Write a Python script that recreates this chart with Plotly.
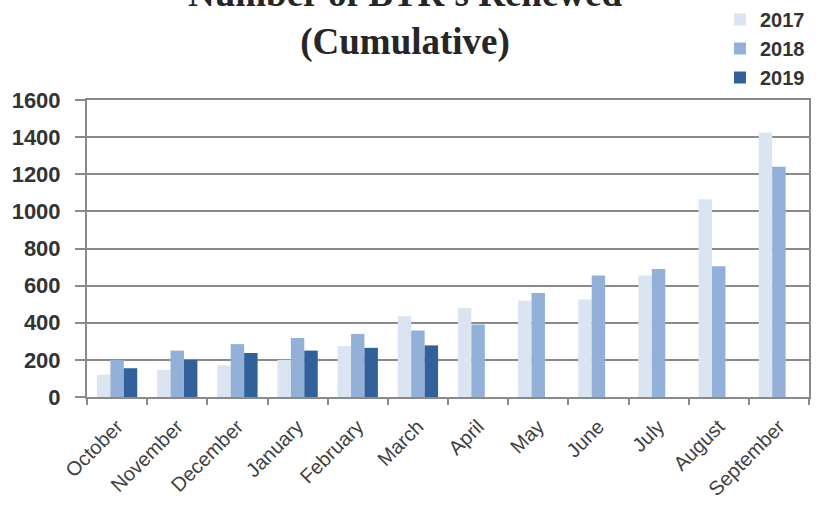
import plotly.graph_objects as go

months = ["October", "November", "December", "January", "February", "March",
          "April", "May", "June", "July", "August", "September"]
renewed_2017 = [120, 145, 170, 200, 275, 435, 480, 520, 525, 655, 1065, 1425]
renewed_2018 = [200, 250, 285, 318, 340, 358, 390, 560, 655, 690, 705, 1240]
renewed_2019 = [155, 200, 237, 250, 265, 278, None, None, None, None, None, None]

years = ["2017", "2018", "2019"]
colors = ["#dbe5f2", "#93b1d8", "#32609a"]

fig = go.Figure()
for name, vals, col in zip(years, [renewed_2017, renewed_2018, renewed_2019], colors):
    fig.add_trace(go.Bar(x=months, y=vals, name=name, marker_color=col,
                         marker_line_width=0))

grid = "#8a8a8a"
fig.update_layout(
    width=820, height=506,
    margin=dict(l=87, r=11, t=100, b=109, autoexpand=False),
    paper_bgcolor="white", plot_bgcolor="white",
    barmode="group", bargap=0.33, bargroupgap=0,
    showlegend=True,
    legend=dict(xref="container", yref="container",
                x=0.878, xanchor="left", y=1.0, yanchor="top",
                font=dict(family="Liberation Sans", size=20, color="#333333",
                          weight="bold"),
                bgcolor="rgba(0,0,0,0)", itemwidth=30, tracegroupgap=0,
                traceorder="normal"),
    annotations=[dict(
        text="<b>Number of BTR's Renewed<br>(Cumulative)</b>",
        xref="paper", yref="paper", x=0.4404, y=1.118,
        xanchor="center", yanchor="bottom", showarrow=False,
        font=dict(family="Liberation Serif", size=37, color="#262626"),
    )],
)

fig.update_xaxes(
    showline=True, linecolor=grid, linewidth=2, mirror=True,
    ticks="outside", tickson="boundaries", ticklen=6, tickcolor=grid, tickwidth=2,
    tickangle=-45, ticklabelstandoff=8,
    tickfont=dict(family="Liberation Sans", size=20, color="#404040"),
    showgrid=False,
)
fig.update_yaxes(
    range=[0, 1600], dtick=200,
    showline=True, linecolor=grid, linewidth=2, mirror=True,
    showgrid=True, gridcolor=grid, gridwidth=2,
    ticks="outside", ticklen=10, tickcolor=grid, tickwidth=2,
    ticklabelstandoff=10,
    tickfont=dict(family="Liberation Sans", size=22, color="#333333",
                  weight="bold"),
    zeroline=False,
)

fig.write_html("out.html")
